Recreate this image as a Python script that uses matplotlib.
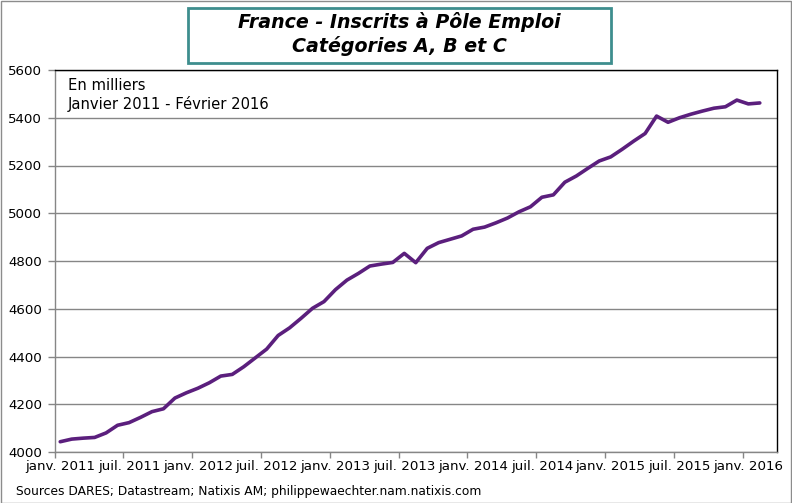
import matplotlib
matplotlib.use("Agg")
import matplotlib.pyplot as plt
from matplotlib.patches import Rectangle

title_lines = ["France - Inscrits à Pôle Emploi", "Catégories A, B et C"]
note_lines = ["En milliers", "Janvier 2011 - Février 2016"]
source = "Sources DARES; Datastream; Natixis AM; philippewaechter.nam.natixis.com"

tick_labels = ["janv. 2011", "juil. 2011", "janv. 2012", "juil. 2012", "janv. 2013",
               "juil. 2013", "janv. 2014", "juil. 2014", "janv. 2015", "juil. 2015",
               "janv. 2016"]

# Monthly values, Jan 2011 - Feb 2016 (thousands)
values = [4043, 4054, 4058, 4061, 4080, 4112, 4123, 4145, 4169, 4181,
          4226, 4248, 4267, 4290, 4318, 4325, 4357, 4394, 4431, 4488,
          4520, 4560, 4602, 4630, 4680, 4720, 4748, 4779, 4787, 4794,
          4832, 4793, 4853, 4877, 4891, 4905, 4933, 4942, 4960, 4980,
          5006, 5027, 5067, 5077, 5130, 5156, 5188, 5219, 5236, 5268,
          5302, 5334, 5407, 5381, 5400, 5415, 5428, 5440, 5446, 5474,
          5458, 5462]
n_categories = 63
yticks = [4000, 4200, 4400, 4600, 4800, 5000, 5200, 5400, 5600]

W, H = 792, 503
fig = plt.figure(figsize=(W / 100, H / 100), dpi=100)
fig.patch.set_facecolor("white")

# outer border
fig.patches.append(Rectangle((0.5 / W, 0.5 / H), (W - 1.5) / W, (H - 1.5) / H,
                             transform=fig.transFigure, fill=False,
                             edgecolor="#8c8c8c", lw=1.0))

left, right, top, bottom = 54.5, 777, 70, 452
ax = fig.add_axes([left / W, (H - bottom) / H, (right - left) / W, (bottom - top) / H])

x = list(range(len(values)))
ax.plot(x, values, color="#5b1f7d", lw=2.6, solid_joinstyle="round", solid_capstyle="round", zorder=3)

ax.set_xlim(-0.5, n_categories - 0.5)
ax.set_ylim(4000, 5600)
ax.set_yticks(yticks)
ax.set_yticklabels([str(v) for v in yticks])
ax.yaxis.grid(True, color="#868686", lw=1.0)
ax.set_axisbelow(True)

major = [-0.5 + 6 * k for k in range(len(tick_labels))]
ax.set_xticks(major)
ax.set_xticklabels([""] * len(major))
ax.set_xticks([6 * k for k in range(len(tick_labels))], minor=True)
ax.set_xticklabels(tick_labels, minor=True)
ax.tick_params(axis="x", which="major", direction="out", length=4, color="#868686", width=1)
ax.tick_params(axis="x", which="minor", length=0, pad=6, labelsize=9.6)
ax.tick_params(axis="y", direction="out", length=5, color="#868686", width=1, pad=4, labelsize=9.6)

for s in ("left", "bottom"):
    ax.spines[s].set_color("#868686")
    ax.spines[s].set_linewidth(1.0)
for s in ("top", "right"):
    ax.spines[s].set_color("black")
    ax.spines[s].set_linewidth(1.0)

# notes inside plot
ax.text(68 / W, 1 - 86 / H, note_lines[0], transform=fig.transFigure, fontsize=10.6,
        va="center", ha="left")
ax.text(68 / W, 1 - 104 / H, note_lines[1], transform=fig.transFigure, fontsize=10.6,
        va="center", ha="left")

# title box
fig.patches.append(Rectangle((188 / W, 1 - 63 / H), (611 - 188) / W, (63 - 8) / H,
                             transform=fig.transFigure, fill=True, facecolor="white",
                             edgecolor="#3e8e8e", lw=2.0, zorder=5))
for i, t in enumerate(title_lines):
    fig.text(399 / W, 1 - (22 + 24 * i) / H, t, fontsize=13.7, fontweight="bold",
             style="italic", ha="center", va="center", zorder=6)

fig.text(16 / W, 1 - 492 / H, source, fontsize=8.8, ha="left", va="center")

fig.savefig("out.png", dpi=100)
